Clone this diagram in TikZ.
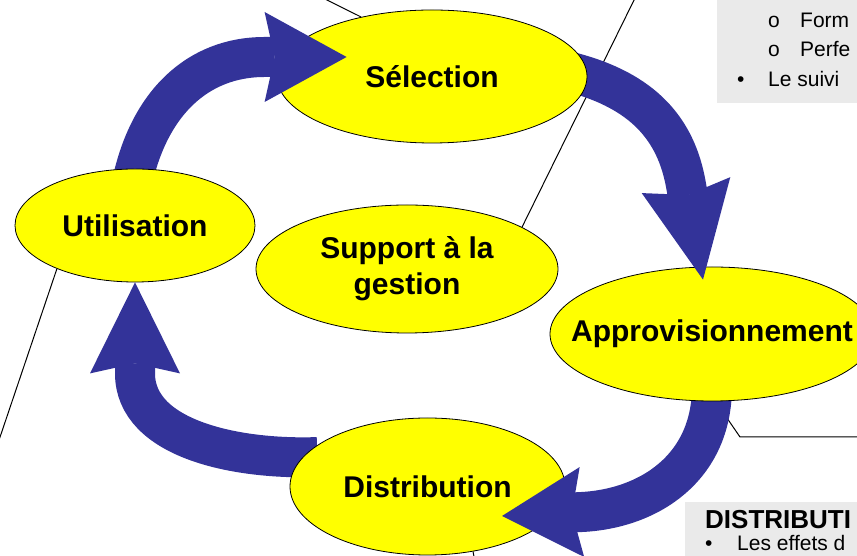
\documentclass[tikz,border=0pt]{standalone}
\usepackage{fontspec}
\setmainfont{Liberation Sans}
\usetikzlibrary{shapes.geometric, arrows.meta, calc}
\definecolor{cyclebleu}{RGB}{51,51,153}
\definecolor{bullejaune}{RGB}{255,255,0}
\definecolor{encadregris}{RGB}{234,234,234}
% one layer per step so that each arrow head lies on its target
\pgfdeclarelayer{traits}
\pgfdeclarelayer{flecheD}
\pgfdeclarelayer{bulleD}
\pgfdeclarelayer{flecheA}
\pgfdeclarelayer{bulleA}
\pgfdeclarelayer{flecheS}
\pgfdeclarelayer{bulleS}
\pgfdeclarelayer{flecheU}
\pgfsetlayers{traits,flecheD,bulleD,flecheA,bulleA,flecheS,bulleS,flecheU,main}

\begin{document}
\begin{tikzpicture}[x=1pt, y=1pt,
  bulle/.style={ellipse, draw=black, line width=0.8pt, fill=bullejaune, inner sep=0pt, font=\bfseries\fontsize{30}{36}\selectfont},
  fleche/.style={draw=cyclebleu, line width=40pt, shorten <=-15pt, -{Stealth[length=#1, width=90pt, inset=10pt, line width=0pt]}},
  fleche/.default=88pt,
  trait/.style={draw=black, line width=1pt},
  encadre/.style={fill=encadregris, draw=none},
  puce/.style={anchor=base west, inner sep=0pt, font=\fontsize{21}{25}\selectfont}
]
  \useasboundingbox (0,0) rectangle (857,556);

  % text boxes on the right
  \fill[encadre] (717,453) rectangle (862,561);
  \fill[encadre] (685,54) rectangle (862,-6);
  \node[puce] (o1) at (768,528) {o};
  \node[puce] (form) at (800,528) {Form};
  \node[puce] (o2) at (768,499) {o};
  \node[puce] (perfe) at (800,499) {Perfe};
  \node[puce] (b1) at (737,469) {\textbullet};
  \node[puce] (suivi) at (768,469) {Le suivi};
  \node[puce, font=\bfseries\fontsize{26}{30}\selectfont] (titreD) at (705,27) {DISTRIBUTI};
  \node[puce] (b2) at (705,5.5) {\textbullet};
  \node[puce] (effets) at (737,5.5) {Les effets d};

  % ellipses
  \node[bulle, minimum width=302pt, minimum height=128pt] (sup) at (407,287)
    {\makebox[0pt]{\raisebox{-8pt}{\begin{tabular}{@{}c@{}}Support à la\\gestion\end{tabular}}}};
  \node[bulle, minimum width=240pt, minimum height=113pt] (util) at (135,330.5) {\makebox[0pt]{Utilisation}};
  \begin{pgfonlayer}{bulleS}
    \node[bulle, minimum width=310pt, minimum height=133pt] (sel) at (432,479.5) {\makebox[0pt]{Sélection}};
  \end{pgfonlayer}
  \begin{pgfonlayer}{bulleA}
    \node[bulle, minimum width=324pt, minimum height=134pt] (appro) at (712,222) {\makebox[0pt]{Approvisionnement}};
  \end{pgfonlayer}
  \begin{pgfonlayer}{bulleD}
    \node[bulle, minimum width=275pt, minimum height=137pt] (dist) at (427.5,69.5) {\makebox[0pt]{Distribution}};
  \end{pgfonlayer}

  % thin lines
  \coordinate (haut1) at (317,561);
  \coordinate (haut2) at (640,568);
  \coordinate (gauche) at (-3,110);
  \coordinate (coude) at (740,119);
  \coordinate (droite) at (862,119);
  \coordinate (bas) at (475,-6);
  \begin{pgfonlayer}{traits}
    \draw[trait] (sel.140) -- (haut1);
    \draw[trait] (sup.20) -- (haut2);
    \draw[trait] (util.209) -- (gauche);
    \draw[trait] (appro.-87) -- (coude) -- (droite);
    \draw[trait] (dist.-55) -- (bas);
  \end{pgfonlayer}

  % cycle arrows: curved shaft, then a straight piece for the head
  \begin{pgfonlayer}{flecheU}
    \draw[fleche=82pt] (util.north) to[out=78, in=180] ($(sel.west)+(-12,19.5)$) -- ++(82,0);
  \end{pgfonlayer}
  \begin{pgfonlayer}{flecheS}
    \draw[fleche=96pt] (sel.east) to[out=-15, in=100] ($(appro.north)+(-26,81.5)$) -- ++(17,-94.5);
  \end{pgfonlayer}
  \begin{pgfonlayer}{flecheA}
    \draw[fleche=80pt] (appro.south) to[out=-90, in=3] ($(dist.center)+(154.5,-25.5)$) -- ++(-80,-4);
  \end{pgfonlayer}
  \begin{pgfonlayer}{flecheD}
    \draw[fleche=91pt] (dist.167) to[out=182, in=-90, looseness=0.9] ($(util.south)+(0,-91)$) -- (util.south);
  \end{pgfonlayer}
\end{tikzpicture}
\end{document}
